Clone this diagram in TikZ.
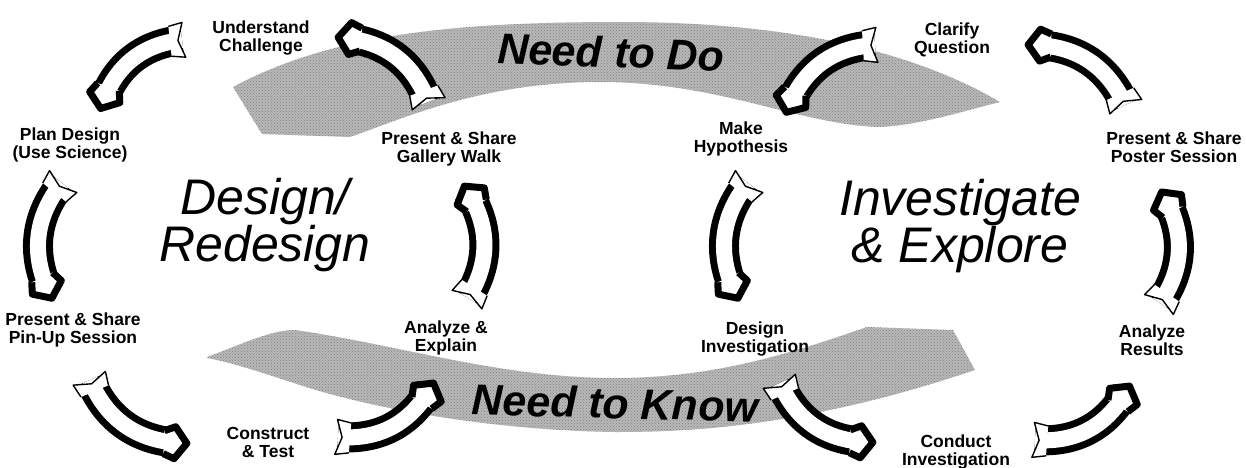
\documentclass[tikz,border=0pt]{standalone}
\usepackage{fontspec}
\setmainfont{Liberation Sans}
\usetikzlibrary{decorations.markings,patterns}

\begin{document}
\begin{tikzpicture}[
  x=1pt,y=-1pt,
  band/.style={fill=black!28,postaction={pattern=crosshatch dots,pattern color=black!50}},
  stage/.style={font=\fontsize{17.5}{18}\selectfont\bfseries,align=center,inner sep=1pt},
  cycname/.style={font=\fontsize{50}{45}\selectfont\itshape,align=center,inner sep=0pt},
  needtxt/.style={font=\fontsize{43}{43}\selectfont\bfseries\itshape,inner sep=0pt},
  cyc/.style={draw=black,line width=30pt,
    postaction={draw=white,line width=16pt},
    postaction={decorate},
    decoration={markings,
      mark=at position 0.001 with {
        \fill[white] (-2,17.5) -- (12,15) -- (12,-15) -- (-2,-17.5) -- (4,0) -- cycle;
        \draw[black,line width=1.4pt,line join=round]
          (12,15) -- (-2,17.5) -- (4,0) -- (-2,-17.5) -- (12,-15);},
      mark=at position 0.999 with {
        \fill[white] (-16,14) -- (-5,18) -- (9,0) -- (-5,-18) -- (-16,-14) -- cycle;
        \draw[black,line width=7pt,line join=round]
          (-16,11.5) -- (-5,16) -- (7,0) -- (-5,-16) -- (-16,-11.5);}}}
]
  \useasboundingbox (0,0) rectangle (1246,467);

  % grey bands
  \path[band] (233,87) .. controls (330,35) and (450,22) .. (620,22)
    .. controls (800,22) and (920,55) .. (1000,102)
    .. controls (960,112) and (920,125) .. (880,127)
    .. controls (800,125) and (720,82) .. (600,82)
    .. controls (480,82) and (400,120) .. (350,137) -- (262,134) -- cycle;
  \path[band] (207,357) .. controls (240,345) and (270,330) .. (295,330)
    .. controls (400,345) and (500,378) .. (615,378)
    .. controls (720,378) and (800,350) .. (867,327) -- (953,330) -- (975,370)
    .. controls (930,385) and (880,400) .. (820,412)
    .. controls (740,428) and (680,432) .. (615,432)
    .. controls (480,430) and (360,405) .. (300,385)
    .. controls (260,372) and (230,362) .. (207,358) -- cycle;

  \node[needtxt,rotate=-2] (needdo) at (611,52) {Need to Do};
  \node[needtxt,rotate=-1.5] (needknow) at (615,403) {Need to Know};

  % big cycle names
  \node[cycname] (design) at (265,225) {Design/\\Redesign};
  \node[cycname] (explore) at (960,226) {Investigate\\\& Explore};

  % stages
  \node[stage] (under) at (261,38) {Understand\\Challenge};
  \node[stage] (gallery) at (449,149) {Present \& Share\\Gallery Walk};
  \node[stage] (explain) at (446,338) {Analyze \&\\Explain};
  \node[stage] (construct) at (268,442) {Construct\\\& Test};
  \node[stage] (pinup) at (73,330) {Present \& Share\\Pin-Up Session};
  \node[stage] (plan) at (70,145) {Plan Design\\(Use Science)};
  \node[stage] (clarify) at (952,40) {Clarify\\Question};
  \node[stage] (poster) at (1174,147) {Present \& Share\\Poster Session};
  \node[stage] (results) at (1152,340) {Analyze\\Results};
  \node[stage] (conduct) at (956,452) {Conduct\\Investigation};
  \node[stage] (designinv) at (755,339) {Design\\Investigation};
  \node[stage] (hypo) at (741,139) {Make\\Hypothesis};

  % arrow ends
  \coordinate (a1s) at (182,40);   \coordinate (a1e) at (103,102);
  \coordinate (a2s) at (428,102);  \coordinate (a2e) at (345,38);
  \coordinate (a3s) at (468,298);  \coordinate (a3e) at (468,192);
  \coordinate (a4s) at (338,437);  \coordinate (a4e) at (430,389);
  \coordinate (a5s) at (90,380);   \coordinate (a5e) at (180,443);
  \coordinate (a6s) at (62,183);   \coordinate (a6e) at (49,292);
  \coordinate (b1s) at (875,45);   \coordinate (b1e) at (789,106);
  \coordinate (b2s) at (1125,105); \coordinate (b2e) at (1035,45);
  \coordinate (b3s) at (1160,303); \coordinate (b3e) at (1165,198);
  \coordinate (b4s) at (1035,440); \coordinate (b4e) at (1126,392);
  \coordinate (b5s) at (780,383);  \coordinate (b5e) at (866,442);
  \coordinate (b6s) at (748,183);  \coordinate (b6e) at (735,292);

  % design cycle
  \draw[cyc] (a1s) to[bend right=32] (a1e);
  \draw[cyc] (a2s) to[bend right=32] (a2e);
  \draw[cyc] (a3s) to[bend right=32] (a3e);
  \draw[cyc] (a4s) to[bend right=32] (a4e);
  \draw[cyc] (a5s) to[bend right=32] (a5e);
  \draw[cyc] (a6s) to[bend right=32] (a6e);
  % investigate cycle
  \draw[cyc] (b1s) to[bend right=32] (b1e);
  \draw[cyc] (b2s) to[bend right=32] (b2e);
  \draw[cyc] (b3s) to[bend right=32] (b3e);
  \draw[cyc] (b4s) to[bend right=32] (b4e);
  \draw[cyc] (b5s) to[bend right=32] (b5e);
  \draw[cyc] (b6s) to[bend right=32] (b6e);
\end{tikzpicture}
\end{document}
